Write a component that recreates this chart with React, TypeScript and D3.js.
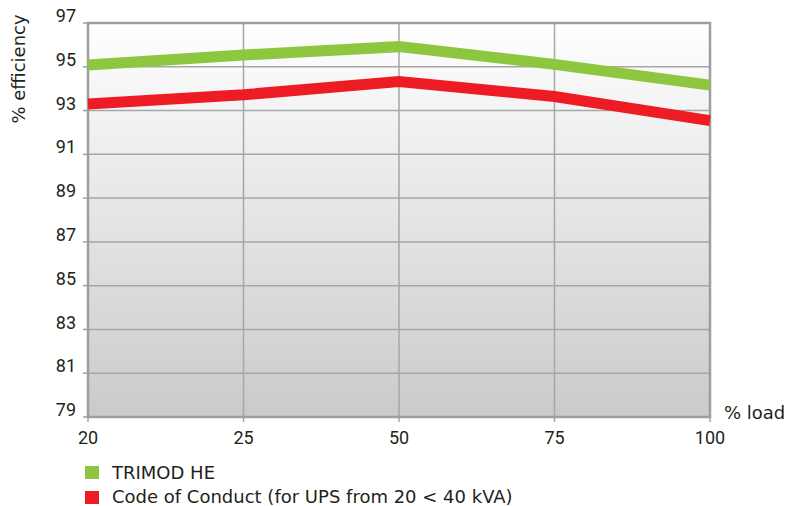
import React, { useRef, useEffect } from 'react';
import * as d3 from 'd3';

const loads = ['20', '25', '50', '75', '100'];
const trimod = [95.08, 95.54, 95.92, 95.11, 94.16];
const codeOfConduct = [93.3, 93.72, 94.33, 93.64, 92.54];
const yTicks = [79, 81, 83, 85, 87, 89, 91, 93, 95, 97];
const seriesNames = ['TRIMOD HE', 'Code of Conduct (for UPS from 20 < 40 kVA)'];
const seriesColors = ['#8dc63f', '#ed1c24'];

const W = 802;
const H = 506;
const FONT = 'Roboto, "DejaVu Sans", sans-serif';
const WIDE = '"DejaVu Sans", sans-serif';

const App = () => {
  const ref = useRef<SVGSVGElement>(null);

  useEffect(() => {
    const svg = d3.select(ref.current);
    svg.selectAll('*').remove();

    const left = 88, right = 710, top = 23, bottom = 417;

    const x = d3.scalePoint().domain(loads).range([left, right]);
    const y = d3.scaleLinear().domain([79, 97]).range([bottom, top]);

    const defs = svg.append('defs');
    const grad = defs.append('linearGradient')
      .attr('id', 'bg')
      .attr('x1', 0).attr('y1', 0).attr('x2', 0).attr('y2', 1);
    grad.append('stop').attr('offset', '0%').attr('stop-color', '#ffffff');
    grad.append('stop').attr('offset', '100%').attr('stop-color', '#c9cacc');

    svg.append('rect')
      .attr('x', left).attr('y', top)
      .attr('width', right - left).attr('height', bottom - top)
      .attr('fill', 'url(#bg)');

    // horizontal grid
    svg.append('g')
      .selectAll('line')
      .data(yTicks)
      .enter()
      .append('line')
      .attr('x1', left).attr('x2', right)
      .attr('y1', d => y(d)).attr('y2', d => y(d))
      .attr('stroke', '#a5a6a8')
      .attr('stroke-width', 1.5);

    // vertical grid
    svg.append('g')
      .selectAll('line')
      .data(loads)
      .enter()
      .append('line')
      .attr('x1', d => x(d)!).attr('x2', d => x(d)!)
      .attr('y1', top).attr('y2', bottom + 5)
      .attr('stroke', '#a5a6a8')
      .attr('stroke-width', 1.5);

    // frame
    svg.append('rect')
      .attr('x', left).attr('y', top)
      .attr('width', right - left).attr('height', bottom - top)
      .attr('fill', 'none')
      .attr('stroke', '#9d9ea0')
      .attr('stroke-width', 2.5);

    // y ticks
    svg.append('g')
      .selectAll('line')
      .data(yTicks)
      .enter()
      .append('line')
      .attr('x1', left - 5).attr('x2', left)
      .attr('y1', d => y(d)).attr('y2', d => y(d))
      .attr('stroke', '#9d9ea0')
      .attr('stroke-width', 1.5);

    svg.append('g')
      .selectAll('text')
      .data(yTicks)
      .enter()
      .append('text')
      .attr('x', left - 12)
      .attr('y', d => y(d))
      .attr('dy', '-0.05em')
      .attr('text-anchor', 'end')
      .style('font-family', FONT)
      .style('font-size', '18px')
      .style('fill', '#231f20')
      .text(d => d);

    svg.append('g')
      .selectAll('text')
      .data(loads)
      .enter()
      .append('text')
      .attr('x', d => x(d)!)
      .attr('y', bottom + 27)
      .attr('text-anchor', 'middle')
      .style('font-family', FONT)
      .style('font-size', '18px')
      .style('fill', '#231f20')
      .text(d => d);

    svg.append('text')
      .attr('x', 724).attr('y', 419)
      .style('font-family', WIDE)
      .style('font-size', '18px')
      .style('fill', '#231f20')
      .text('% load');

    svg.append('text')
      .attr('transform', 'translate(25,69) rotate(-90)')
      .attr('text-anchor', 'middle')
      .style('font-family', WIDE)
      .style('font-size', '18px')
      .style('fill', '#231f20')
      .text('% efficiency');

    const line = d3.line<number>()
      .x((_, i) => x(loads[i])!)
      .y(d => y(d));

    [trimod, codeOfConduct].forEach((s, i) => {
      svg.append('path')
        .datum(s)
        .attr('fill', 'none')
        .attr('stroke', seriesColors[i])
        .attr('stroke-width', 11)
        .attr('d', line);
    });

    // legend
    const lg = svg.append('g');
    seriesNames.forEach((name, i) => {
      lg.append('rect')
        .attr('x', 85).attr('y', 466 + i * 25)
        .attr('width', 14).attr('height', 13)
        .attr('fill', seriesColors[i]);
      lg.append('text')
        .attr('x', 112).attr('y', 479 + i * 24)
        .style('font-family', WIDE)
        .style('font-size', '18px')
        .style('fill', '#231f20')
        .text(name);
    });
  }, []);

  return (
    <svg ref={ref} width={W} height={H} style={{ position: 'absolute', left: 0, top: 0 }}></svg>
  );
};

export default App;
